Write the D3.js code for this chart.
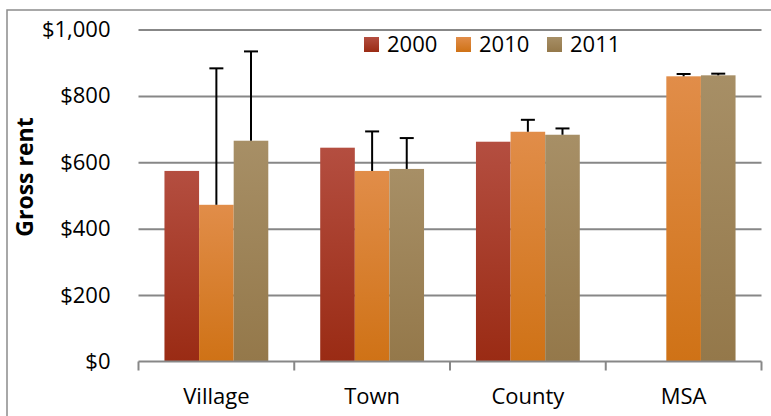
<!DOCTYPE html>
<html>
<head>
<meta charset="utf-8">
<script src="https://cdn.jsdelivr.net/npm/d3@7"></script>
<style>
  body { margin: 0; background: #fff; }
  text { font-family: "Open Sans", Lato, sans-serif; fill: #000; }
</style>
</head>
<body>
<svg class="chart"></svg>
<script>
// gross rent by area, three survey years
var categories = ["Village", "Town", "County", "MSA"];
var years = ["2000", "2010", "2011"];
var rent2000 = [574, 644, 662, null];
var rent2010 = [472, 574, 692, 859];
var rent2011 = [665, 580, 683, 862];
// plus-only error amounts
var err2000 = [null, null, null, null];
var err2010 = [411, 119, 36, 7];
var err2011 = [269, 93, 19, 5];
var yTicks = [0, 200, 400, 600, 800, 1000];

var colors = {
  "2000": ["#b44e40", "#9a2b14"],
  "2010": ["#e18d49", "#cf7216"],
  "2011": ["#a78f66", "#94784a"]
};

var width = 771, height = 416;
var plot = {left: 138.5, right: 761.5, top: 29.5, bottom: 361.5};

var svg = d3.select(".chart")
    .attr("width", width)
    .attr("height", height);

var defs = svg.append("defs");
years.forEach(function(yr) {
  var g = defs.append("linearGradient")
      .attr("id", "grad" + yr)
      .attr("x1", 0).attr("y1", 0).attr("x2", 0).attr("y2", 1);
  g.append("stop").attr("offset", "0%").attr("stop-color", colors[yr][0]);
  g.append("stop").attr("offset", "100%").attr("stop-color", colors[yr][1]);
});

// outer chart border
svg.append("rect")
    .attr("x", 7).attr("y", 10)
    .attr("width", 820).attr("height", 500)
    .attr("fill", "none")
    .attr("stroke", "#8c8c8c")
    .attr("stroke-width", 1.5);

var x = d3.scaleBand()
    .domain(categories)
    .range([plot.left, plot.right]);

var xSub = d3.scaleBand()
    .domain(years)
    .range([0, x.bandwidth()])
    .paddingOuter(0.75);

var y = d3.scaleLinear()
    .domain([0, 1000])
    .range([plot.bottom, plot.top]);

// y axis: labels + gridlines
var yAxis = d3.axisLeft(y)
    .tickValues(yTicks)
    .tickFormat(d3.format("$,.0f"))
    .tickSizeInner(-(plot.right - plot.left))
    .tickSizeOuter(0)
    .tickPadding(28);

var yg = svg.append("g")
    .attr("transform", "translate(" + plot.left + ",0)")
    .call(yAxis);
yg.select(".domain").remove();
yg.selectAll(".tick line")
    .attr("stroke", "#878787")
    .attr("stroke-width", 2);
yg.selectAll(".tick text")
    .style("font-size", "22px");
yg.selectAll(".tick").filter(function(d) { return d === 0; }).select("line").remove();

// bars
var series = [
  {year: "2000", values: rent2000, errs: err2000},
  {year: "2010", values: rent2010, errs: err2010},
  {year: "2011", values: rent2011, errs: err2011}
];

var groups = svg.append("g").selectAll("g")
    .data(series)
  .enter().append("g");

groups.selectAll("rect")
    .data(function(s) {
      return categories.map(function(c, i) {
        return {cat: c, year: s.year, value: s.values[i], err: s.errs[i]};
      }).filter(function(d) { return d.value != null; });
    })
  .enter().append("rect")
    .attr("x", function(d) { return x(d.cat) + xSub(d.year); })
    .attr("y", function(d) { return y(d.value); })
    .attr("width", xSub.bandwidth())
    .attr("height", function(d) { return y(0) - y(d.value); })
    .attr("fill", function(d) { return "url(#grad" + d.year + ")"; });

// error bars
var errs = [];
series.forEach(function(s) {
  categories.forEach(function(c, i) {
    if (s.values[i] != null && s.errs[i] != null)
      errs.push({cat: c, year: s.year, value: s.values[i], err: s.errs[i]});
  });
});

var eb = svg.append("g").selectAll("g")
    .data(errs)
  .enter().append("g")
    .attr("stroke", "#000")
    .attr("stroke-width", 2);

eb.append("line")
    .attr("x1", function(d) { return x(d.cat) + xSub(d.year) + xSub.bandwidth() / 2; })
    .attr("x2", function(d) { return x(d.cat) + xSub(d.year) + xSub.bandwidth() / 2; })
    .attr("y1", function(d) { return y(d.value); })
    .attr("y2", function(d) { return y(d.value + d.err); });

eb.append("line")
    .attr("x1", function(d) { return x(d.cat) + xSub(d.year) + xSub.bandwidth() / 2 - 7; })
    .attr("x2", function(d) { return x(d.cat) + xSub(d.year) + xSub.bandwidth() / 2 + 7; })
    .attr("y1", function(d) { return y(d.value + d.err); })
    .attr("y2", function(d) { return y(d.value + d.err); });

// x axis with boundary ticks
var xg = svg.append("g");
xg.append("line")
    .attr("x1", plot.left).attr("x2", plot.right)
    .attr("y1", y(0)).attr("y2", y(0))
    .attr("stroke", "#878787").attr("stroke-width", 2);
var bounds = categories.map(function(c) { return x(c); }).concat([plot.right]);
xg.selectAll(".bt")
    .data(bounds)
  .enter().append("line")
    .attr("x1", function(d) { return d; }).attr("x2", function(d) { return d; })
    .attr("y1", y(0)).attr("y2", y(0) + 9)
    .attr("stroke", "#878787").attr("stroke-width", 2);
xg.selectAll(".cat")
    .data(categories)
  .enter().append("text")
    .attr("x", function(d) { return x(d) + x.bandwidth() / 2; })
    .attr("y", 404)
    .attr("text-anchor", "middle")
    .style("font-size", "22px")
    .text(function(d) { return d; });

// axis title
svg.append("text")
    .attr("transform", "translate(33,177) rotate(-90)")
    .attr("text-anchor", "middle")
    .style("font-size", "23px")
    .style("font-weight", "bold")
    .text("Gross rent");

// legend
var legendX = [364, 456, 547];
var legend = svg.append("g").selectAll("g")
    .data(years)
  .enter().append("g")
    .attr("transform", function(d, i) { return "translate(" + legendX[i] + ",37)"; });
legend.append("rect")
    .attr("width", 15).attr("height", 15)
    .attr("fill", function(d) { return "url(#grad" + d + ")"; });
legend.append("text")
    .attr("x", 23).attr("y", 15)
    .style("font-size", "22px")
    .text(function(d) { return d; });
</script>
</body>
</html>
